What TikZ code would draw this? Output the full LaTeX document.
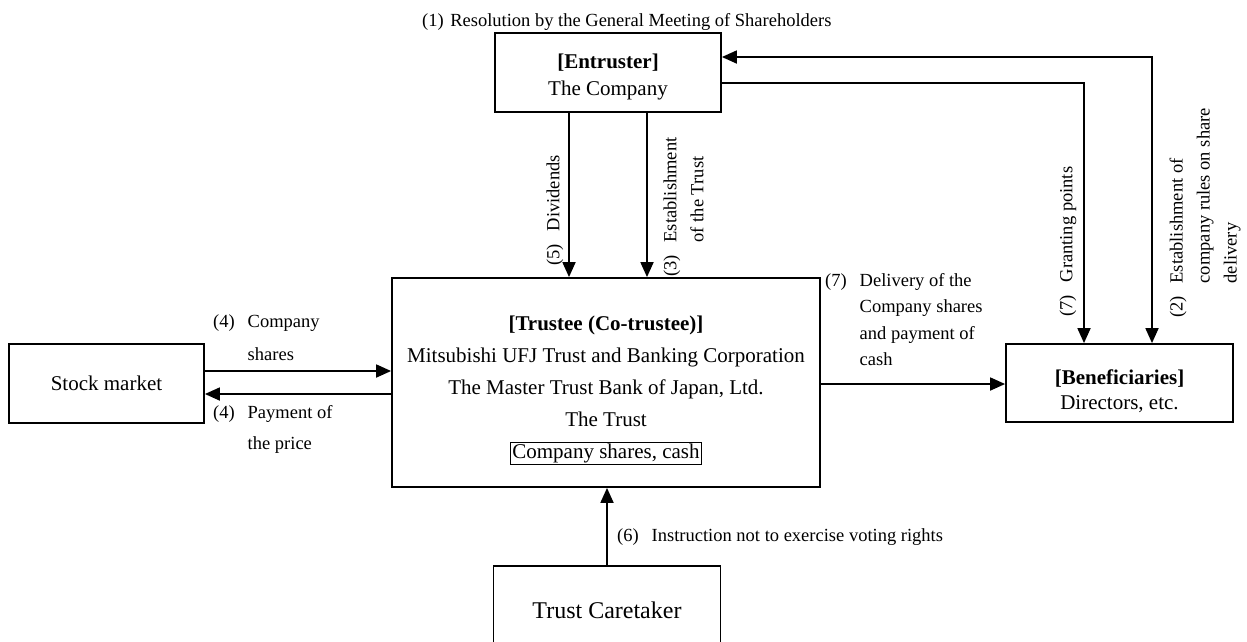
\documentclass[tikz,border=0pt]{standalone}
\usepackage{fontspec}
\setmainfont{Liberation Serif}
\usetikzlibrary{arrows.meta}
\newcommand{\lgap}{\hspace{0.7em}}
\newcommand{\lind}{\hphantom{(0)\lgap}}
\begin{document}
\begin{tikzpicture}[x=1pt,y=-1pt,
  box/.style={draw, line width=1.8pt, inner sep=0pt},
  boxtext/.style={inner sep=0pt, align=center, font=\fontsize{21}{#1}\selectfont},
  boxtext/.default=27,
  arr/.style={line width=1.8pt, -{Triangle[width=13pt,length=15pt]}},
  arrboth/.style={line width=1.8pt, {Triangle[width=13pt,length=15pt]}-{Triangle[width=13pt,length=15pt]}},
  lbl/.style={inner sep=0pt, align=left, font=\fontsize{18.5}{#1}\selectfont},
  lbl/.default=27
]
\clip (0,0) rectangle (1247,641);
\fill[white] (0,0) rectangle (1247,641);

\node[box, minimum width=226pt, minimum height=79pt] (entruster) at (608,72.5) {};
\node[boxtext=27] (entrustertext) at (608,76.5) {\textbf{[Entruster]}\\The Company};
\node[box, minimum width=195pt, minimum height=79pt] (stock) at (106.5,383.5) {};
\node[boxtext] (stocktext) at (106.5,383.5) {Stock market};
\node[box, minimum width=428pt, minimum height=209pt] (trustee) at (606,382.5) {};
\node[boxtext=32] (trusteetext) at (606,390.5) {\textbf{[Trustee (Co-trustee)]}\\Mitsubishi UFJ Trust and Banking Corporation\\The Master Trust Bank of Japan, Ltd.\\The Trust\\{\setlength{\fboxsep}{1.5pt}\setlength{\fboxrule}{0.8pt}\fbox{Company shares, cash}}};
\node[box, minimum width=227pt, minimum height=78pt] (benef) at (1119.5,383) {};
\node[boxtext=25] (beneftext) at (1119.5,391) {\textbf{[Beneficiaries]}\\Directors, etc.};
\node[box, minimum width=227pt, minimum height=88pt] (caretaker) at (607,610) {};
\node[boxtext, font=\fontsize{24}{28}\selectfont] (caretakertext) at (607,610) {Trust Caretaker};

\coordinate (c5) at (569,0);
\coordinate (c3) at (647,0);
\draw[arr] (entruster.south -| c5) -- (trustee.north -| c5);
\draw[arr] (entruster.south -| c3) -- (trustee.north -| c3);
\coordinate (g7) at (1084,83);
\draw[arr] (entruster.east |- g7) -- (g7) -- (benef.north -| g7);
\coordinate (r2) at (1152,57);
\draw[arrboth] (benef.north -| r2) -- (r2) -- (entruster.east |- r2);
\coordinate (s1) at (0,371);
\coordinate (s2) at (0,394);
\draw[arr] (stock.east |- s1) -- (trustee.west |- s1);
\draw[arr] (trustee.west |- s2) -- (stock.east |- s2);
\coordinate (d7) at (0,384);
\draw[arr] (trustee.east |- d7) -- (benef.west |- d7);
\draw[arr] (caretaker.north) -- (trustee.south -| caretaker.north);

\node[lbl, anchor=north west] (l1) at (422,13) {(1)\hspace{0.35em}Resolution by the General Meeting of Shareholders};
\node[lbl=33, anchor=north west] (l4a) at (213,314) {(4)\lgap Company\\\lind shares};
\node[lbl=31, anchor=north west] (l4b) at (213,405) {(4)\lgap Payment of\\\lind the price};
\node[lbl=26.5, anchor=north west] (l7d) at (825,273) {(7)\lgap Delivery of the\\\lind Company shares\\\lind and payment of\\\lind cash};
\node[lbl, anchor=north west] (l6) at (617,528) {(6)\lgap Instruction not to exercise voting rights};
\node[lbl, rotate=90, anchor=west] (l5) at (555,266) {(5)\lgap Dividends};
\node[lbl=27, rotate=90, anchor=west] (l3) at (683.5,277) {(3)\lgap Establishment\\\lind of the Trust};
\node[lbl, rotate=90, anchor=west] (l7g) at (1068,317) {(7)\lgap Granting points};
\node[lbl=27, rotate=90, anchor=west] (l2) at (1205,318) {(2)\lgap Establishment of\\\lind company rules on share\\\lind delivery};
\end{tikzpicture}
\end{document}
